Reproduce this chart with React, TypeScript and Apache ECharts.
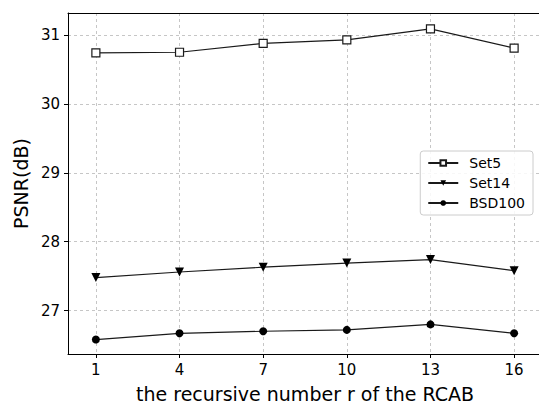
import React, { useEffect, useRef } from "react";
import * as echarts from "echarts";

const rValues = [1, 4, 7, 10, 13, 16];
const set5 = [30.74, 30.75, 30.88, 30.93, 31.09, 30.81];
const set14 = [27.48, 27.56, 27.63, 27.69, 27.74, 27.58];
const bsd100 = [26.58, 26.67, 26.7, 26.72, 26.8, 26.67];
const yTicks = [27, 28, 29, 30, 31];

const FONT = "DejaVu Sans";

export default function App() {
  const ref = useRef<HTMLDivElement>(null);
  useEffect(() => {
    const chart = echarts.init(ref.current!, undefined, { renderer: "svg" });
    const mk = (name: string, vals: number[], symbol: string, size: number, hollow: boolean, rot = 0) => ({
      name,
      type: "line",
      data: rValues.map((r, i) => [r, vals[i]]),
      symbol,
      symbolSize: size,
      symbolRotate: rot,
      showAllSymbol: true,
      lineStyle: { color: "#1a1a1a", width: 1.2 },
      itemStyle: hollow
        ? { color: "#ffffff", borderColor: "#1a1a1a", borderWidth: 1.2 }
        : { color: "#000000", borderColor: "#000000", borderWidth: 0 },
      emphasis: { disabled: true },
    });
    const dash = { color: "#b8b8b8", width: 0.8, type: [3, 3] as any };
    chart.setOption({
      animation: false,
      backgroundColor: "#ffffff",
      grid: {
        left: 68,
        top: 13,
        right: -3,
        bottom: 49,
        containLabel: false,
        outerBoundsMode: "none",
      },
      xAxis: [
        {
          type: "value",
          min: 0,
          max: 17,
          name: "the recursive number r of the RCAB",
          nameLocation: "middle",
          nameGap: 30,
          nameTextStyle: { fontFamily: FONT, fontSize: 19, color: "#000" },
          axisLine: { show: true, lineStyle: { color: "#000", width: 1 } },
          axisTick: { show: true, length: 4, customValues: rValues, lineStyle: { color: "#000" } },
          axisLabel: { customValues: rValues, fontFamily: FONT, fontSize: 15, color: "#000", margin: 8 },
          splitLine: { show: true, lineStyle: dash },
        },
        {
          type: "value",
          position: "top",
          min: 0,
          max: 17,
          axisLine: { show: true, onZero: false, lineStyle: { color: "#000", width: 1 } },
          axisTick: { show: false },
          axisLabel: { show: false },
          splitLine: { show: false },
        },
      ],
      yAxis: {
        type: "value",
        min: 26.37,
        max: 31.32,
        name: "PSNR(dB)",
        nameLocation: "middle",
        nameGap: 38,
        nameTextStyle: { fontFamily: FONT, fontSize: 19, color: "#000" },
        axisLine: { show: true, lineStyle: { color: "#000", width: 1 } },
        axisTick: { show: true, length: 4, customValues: yTicks, lineStyle: { color: "#000" } },
        axisLabel: { customValues: yTicks, fontFamily: FONT, fontSize: 15, color: "#000", margin: 8 },
        splitLine: { show: true, lineStyle: dash },
      },
      legend: {
        right: 6,
        top: 151,
        orient: "vertical",
        itemWidth: 30,
        itemHeight: 7,
        itemGap: 4,
        padding: [4, 8, 4, 7],
        backgroundColor: "rgba(255,255,255,0.85)",
        borderColor: "#cccccc",
        borderWidth: 1,
        borderRadius: 3,
        textStyle: { fontFamily: FONT, fontSize: 14, color: "#000", padding: [0, 0, 0, 6], lineHeight: 16 },
        data: ["Set5", "Set14", "BSD100"],
      },
      series: [
        mk("Set5", set5, "rect", 8, true),
        mk("Set14", set14, "triangle", 9, false, 180),
        mk("BSD100", bsd100, "circle", 8, false),
      ],
    });
    return () => chart.dispose();
  }, []);
  return (
    <div
      ref={ref}
      style={{ position: "fixed", left: 0, top: 0, width: 539, height: 403 }}
    />
  );
}
